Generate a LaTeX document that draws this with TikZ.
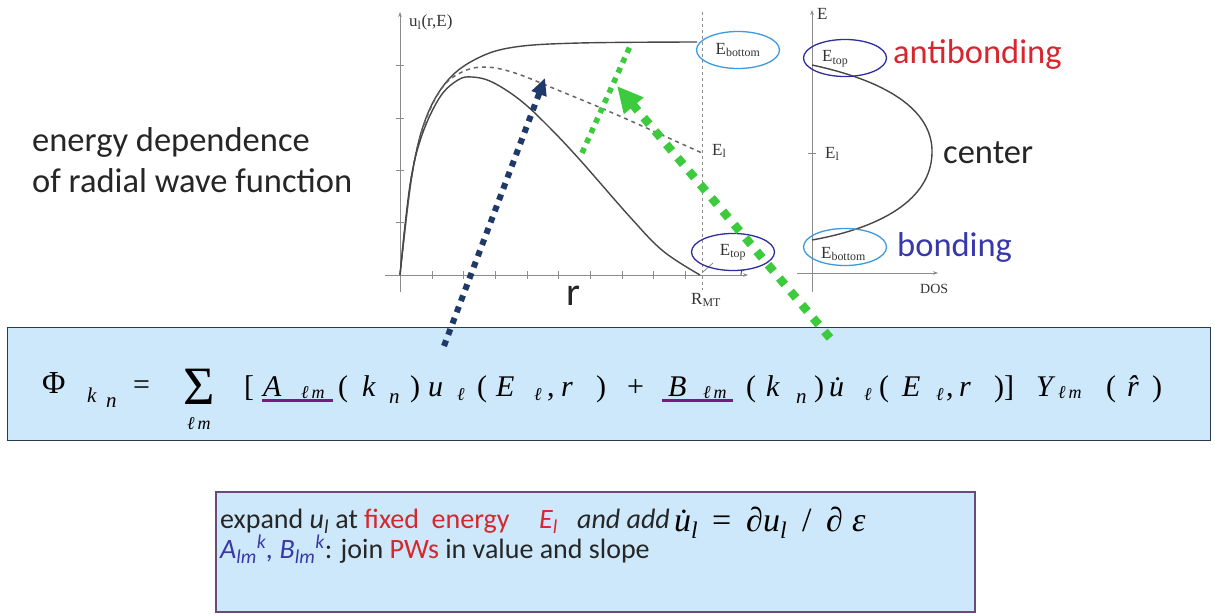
\documentclass[tikz,border=0pt]{standalone}
\usepackage{fontspec}
\setmainfont{Carlito}
\newfontfamily\tms{Liberation Serif}
\usetikzlibrary{arrows.meta,shapes.geometric}
\definecolor{boxblue}{HTML}{CDE8FA}
\definecolor{boxline}{HTML}{2B3A4A}
\definecolor{lightell}{HTML}{3C9BDD}
\definecolor{darkell}{HTML}{2E2E9E}
\definecolor{arrblue}{HTML}{1F3A68}
\definecolor{arrgreen}{HTML}{3CCB3C}
\definecolor{txtred}{HTML}{D8262E}
\definecolor{txtblue}{HTML}{3838A8}
\definecolor{ulpurple}{HTML}{7A1A7A}
\definecolor{purpline}{HTML}{6A4A7A}
\begin{document}
\begin{tikzpicture}[x=1pt,y=-1pt,
  ax/.style={draw=black!45, line width=0.9pt},
  crv/.style={draw=black!72, line width=1.4pt},
  tm/.style={font=\tms\fontsize{17}{20}\selectfont, text=black!80, inner sep=0pt},
  cal/.style={font=\fontsize{34.5}{40}\selectfont, inner sep=0pt, anchor=base west, text=black!85},
  fm/.style={font=\tms\fontsize{30}{36}\selectfont, inner sep=0pt, anchor=base west},
  fmi/.style={font=\tms\itshape\fontsize{30}{36}\selectfont, inner sep=0pt, anchor=base west},
  fsub/.style={font=\tms\itshape\fontsize{21}{25}\selectfont, inner sep=0pt, anchor=base west},
  fsl/.style={font=\tms\itshape\fontsize{18}{22}\selectfont, inner sep=0pt, anchor=base west},
  ell/.style={ellipse, draw, line width=1.3pt, minimum width=83pt, minimum height=37pt, inner sep=0pt},
  btxt/.style={font=\fontsize{28}{32}\selectfont, inner sep=0pt, anchor=base west, text=black!85},
  bfm/.style={font=\tms\itshape\fontsize{34}{38}\selectfont, inner sep=0pt, anchor=base west},
  ul/.style={draw=ulpurple, line width=3pt},
  bluedots/.style={draw=arrblue, line width=6pt, dash pattern=on 6pt off 6pt},
  greendots/.style={draw=arrgreen, line width=8.5pt, dash pattern=on 8.5pt off 9pt},
  thingreen/.style={draw=arrgreen, line width=5.5pt, dash pattern=on 5.5pt off 5.5pt}
]
\useasboundingbox (0,0) rectangle (1215,615);
\fill[white] (0,0) rectangle (1215,615);

% ---------- left text ----------
\node[cal] (t1) at (32,152) {energy dependence};
\node[cal] (t2) at (32,192) {of radial wave function};

% ---------- left plot ----------
\draw[ax,-{Stealth[length=5pt]}] (400,292) -- (400,12);
\draw[ax,-{Stealth[length=5pt]}] (385,275) -- (748,275);
\foreach \xx in {432,463,495,527,558,590,622,653,685} \draw[ax] (\xx,271) -- (\xx,279);
\foreach \yy in {65,118,170,222} \draw[ax] (396,\yy) -- (404,\yy);
\draw[draw=black!45, line width=0.8pt, dash pattern=on 3pt off 3pt] (702,12) -- (702,290);
\draw[crv] plot[smooth, tension=0.6] coordinates {(400,275) (412,175) (426,118) (448,80) (478,58) (515,47) (580,43) (697,42)};
\draw[draw=black!60, line width=1.5pt, dash pattern=on 4pt off 4pt] plot[smooth, tension=0.6] coordinates {(400,275) (411,180) (424,125) (442,88) (462,72) (485,67) (515,73) (560,91) (615,114) (702,153)};
\draw[crv] plot[smooth, tension=0.6] coordinates {(400,275) (410,185) (422,135) (440,97) (458,80) (472,77) (492,82) (520,100) (548,126) (580,160) (630,217) (663,251) (700,275)};
\node[tm, anchor=base west] (ulab) at (409,27) {u\textsubscript{l}(r,E)};
\node[tm, anchor=base west] (El1) at (712,155) {E\textsubscript{l}};
\node[tm, anchor=base west] (RMT) at (691,304) {R\textsubscript{MT}};
\node[font=\fontsize{40}{44}\selectfont, inner sep=0pt, anchor=base west, text=black!85] (rlab) at (566,305) {r};
\node[tm, font=\tms\itshape\fontsize{11}{12}\selectfont, anchor=base west] (rsmall) at (740,275) {r};
\draw[draw=black!45, line width=0.8pt] (703,272) -- (713,263);
\node[ell, draw=lightell, tm] (Eb1) at (738,50) {E\textsubscript{bottom}};
\node[ell, draw=darkell, tm] (Et1) at (733,252) {E\textsubscript{top}};

% ---------- right plot ----------
\draw[ax,-{Stealth[length=5pt]}] (812,292) -- (812,10);
\draw[ax,-{Stealth[length=5pt]}] (797,273) -- (938,273);
\draw[ax] (808,153) -- (816,153);
\draw[crv] (812,65) .. controls (905,85) and (933,120) .. (932,153) .. controls (931,200) and (880,228) .. (812,240);
\node[tm, anchor=base west] (Eax) at (817,20) {E};
\node[tm, anchor=base west] (El2) at (825,158) {E\textsubscript{l}};
\node[tm, font=\tms\fontsize{14}{16}\selectfont, anchor=base west] (dos) at (920,293) {DOS};
\node[ell, draw=darkell] (Et2) at (845,58) {};
\node[tm, anchor=base west] (Et2t) at (822,62) {E\textsubscript{top}};
\node[ell, draw=lightell] (Eb2) at (845,247) {};
\node[tm, anchor=base west] (Eb2t) at (821,258) {E\textsubscript{bottom}};
\node[cal, text=txtred] (anti) at (893,64) {antibonding};
\node[cal] (cent) at (943,163) {center};
\node[cal, text=txtblue] (bond) at (897,256) {bonding};

% ---------- formula box ----------
\node[draw=boxline, fill=boxblue, line width=1.6pt, minimum width=1203pt, minimum height=113pt, inner sep=0pt] (fbox) at (609,384) {};
\node[fm, font=\tms\fontsize{32}{36}\selectfont] (f1) at (42,393) {Φ};
\node[fsub] (f2) at (87,402) {k};
\node[fsub] (f3) at (106,407) {n};
\node[fm] (f4) at (133,394) {=};
\node[font=\tms\fontsize{54}{58}\selectfont, inner sep=0pt, anchor=base west] (f5) at (183,404) {Σ};
\node[fsl] (f6) at (187,429) {ℓ\,m};
\node[fm] (f7) at (244,396) {[};
\node[fmi] (f8) at (263,396) {A};
\node[fsl] (f9) at (301,398) {ℓ\,m};
\node[fm] (f10) at (338,396) {(};
\node[fmi] (f11) at (362,396) {k};
\node[fsub] (f12) at (389,403) {n};
\node[fm] (f13) at (410,396) {)};
\node[fmi] (f14) at (428,396) {u};
\node[fsl] (f15) at (457,400) {ℓ};
\node[fm] (f16) at (477,396) {(};
\node[fmi] (f17) at (496,396) {E};
\node[fsl] (f18) at (534,400) {ℓ};
\node[fm] (f19) at (547,396) {,};
\node[fmi] (f20) at (561,396) {r};
\node[fm] (f21) at (596,396) {)};
\node[fm] (f22) at (627,396) {+};
\node[fmi] (f23) at (668,396) {B};
\node[fsl] (f24) at (703,398) {ℓ\,m};
\node[fm] (f25) at (746,396) {(};
\node[fmi] (f26) at (766,396) {k};
\node[fsub] (f27) at (796,403) {n};
\node[fm] (f28) at (814,396) {)};
\node[fmi] (f29) at (829,396) {u̇};
\node[fsl] (f30) at (864,400) {ℓ};
\node[fm] (f31) at (879,396) {(};
\node[fmi] (f32) at (902,396) {E};
\node[fsl] (f33) at (936,400) {ℓ};
\node[fm] (f34) at (946,396) {,};
\node[fmi] (f35) at (959,396) {r};
\node[fm] (f36) at (994,396) {)]};
\node[fmi] (f37) at (1036,396) {Y};
\node[fsl] (f38) at (1058,398) {ℓ\,m};
\node[fm] (f39) at (1106,396) {(};
\node[fmi] (f40) at (1127,396) {r̂};
\node[fm] (f41) at (1152,396) {)};
\draw[ul] (262,400) -- (333,400);
\draw[ul] (662,400) -- (733,400);

% ---------- note box ----------
\node[draw=purpline, fill=boxblue, line width=1.4pt, minimum width=759pt, minimum height=120pt, inner sep=0pt] (nbox) at (595.5,552) {};
\node[btxt] (n1a) at (220,528) {expand {\itshape u\textsubscript{l}} at};
\node[btxt, text=txtred] (n1b) at (364,528) {fixed\ \ energy};
\node[btxt, text=txtred] (n1d) at (539,528) {\itshape E\textsubscript{l}};
\node[btxt] (n1e) at (577,528) {\itshape and add};
\node[bfm] (n2a) at (674,531) {u̇\textsubscript{l}};
\node[bfm, font=\tms\fontsize{34}{38}\selectfont] (n2b) at (712,531) {=};
\node[bfm] (n2c) at (746,531) {∂u\textsubscript{l}};
\node[bfm, font=\tms\fontsize{34}{38}\selectfont] (n2d) at (802,531) {/};
\node[bfm] (n2e) at (826,531) {∂};
\node[bfm] (n2f) at (852,531) {ε};
\node[btxt] (n3) at (220,558) {{\color{txtblue}\itshape A\textsubscript{lm}\textsuperscript{k}, B\textsubscript{lm}\textsuperscript{k}}: join \textcolor{txtred}{PWs} in value and slope};

% ---------- arrows ----------
\coordinate (ba) at (444,346);
\coordinate (bb) at (545,78);
\draw[bluedots, -{Triangle[length=17pt,width=15pt]}] (ba) -- (bb);
\coordinate (ga) at (830,338);
\coordinate (gb) at (617,86);
\draw[greendots, -{Triangle[length=26pt,width=24pt]}] (ga) -- (gb);
\coordinate (tga) at (582,153);
\coordinate (tgb) at (631,44);
\draw[thingreen] (tga) -- (tgb);
\end{tikzpicture}
\end{document}
